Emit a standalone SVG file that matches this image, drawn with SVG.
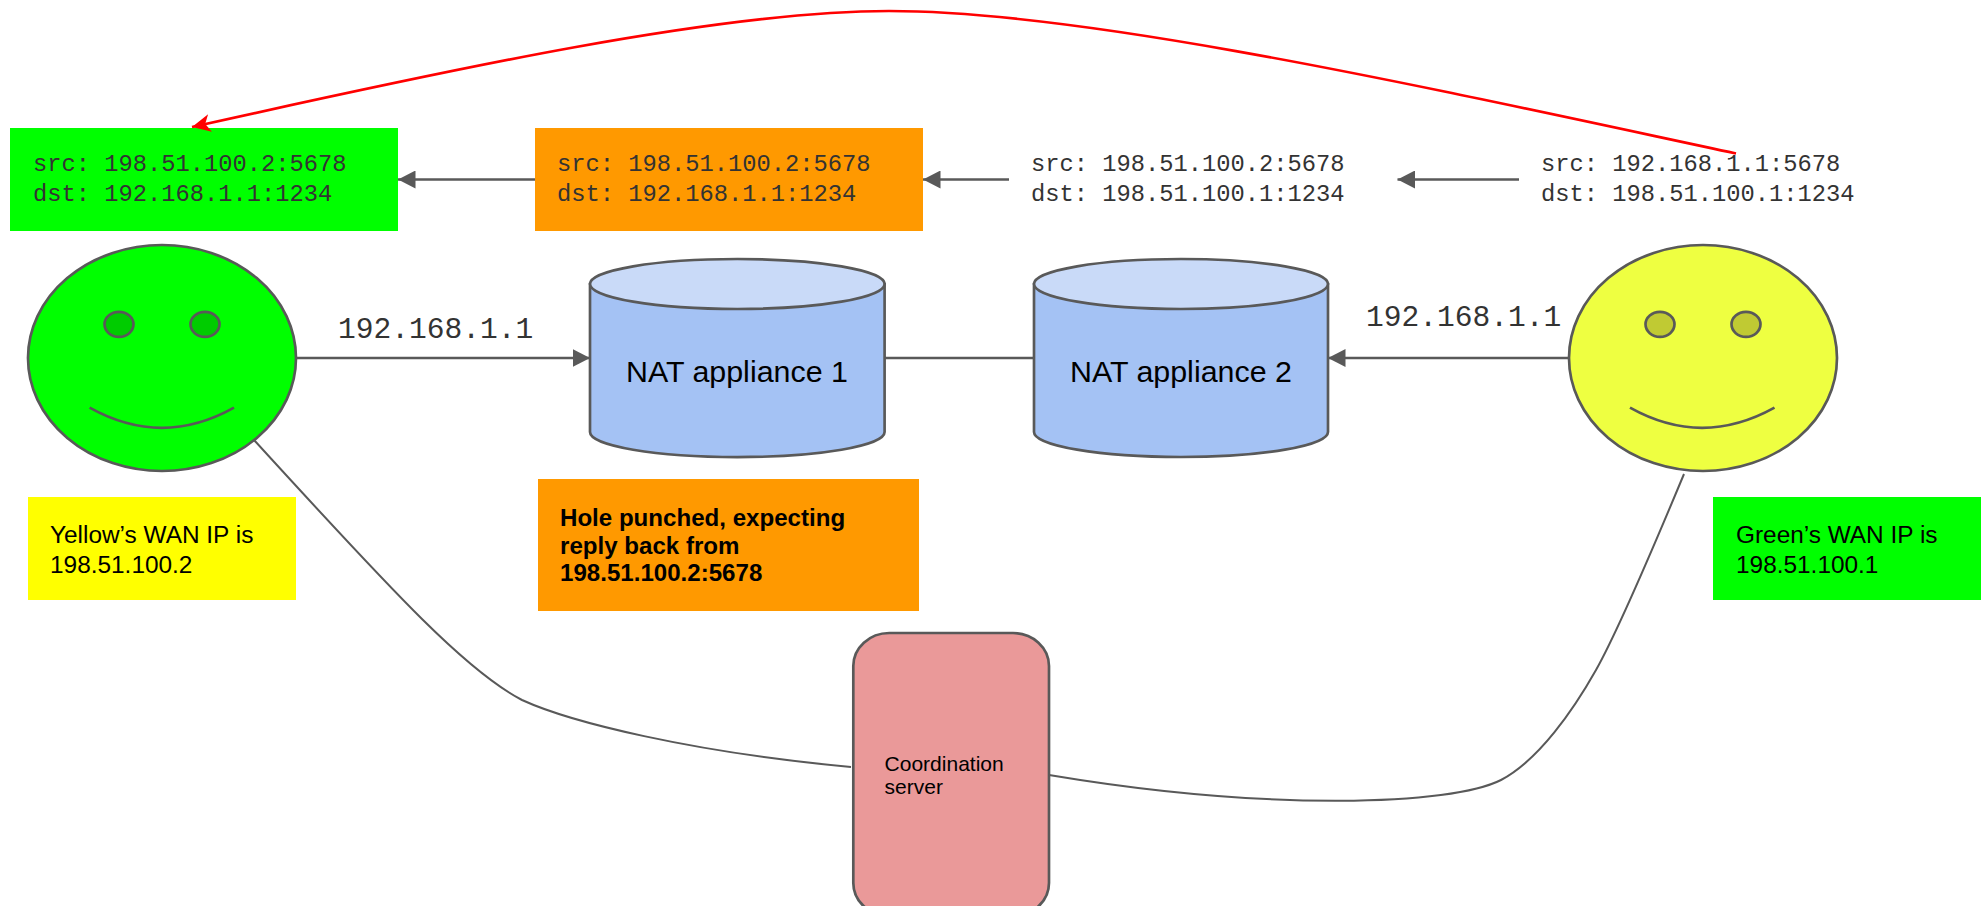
<svg xmlns="http://www.w3.org/2000/svg" width="1984" height="906" viewBox="0 0 1984 906">
<defs>
<style>
.sh{stroke:#595959;stroke-width:2.67}
.mono{font-family:"Liberation Mono",monospace;font-size:23.75px;fill:#333}
.ip{font-family:"Liberation Mono",monospace;font-size:29.6px;fill:#333}
.sans{font-family:"Liberation Sans",Arial,sans-serif;font-size:24.4px;fill:#000}
.big{font-family:"Liberation Sans",Arial,sans-serif;font-size:30.4px;fill:#000}
.bold{font-weight:bold;font-size:24.1px}
.small{font-family:"Liberation Sans",Arial,sans-serif;font-size:21px;fill:#000}
.line{fill:none;stroke:#595959;stroke-width:2.67}
.thin{fill:none;stroke:#595959;stroke-width:2}
</style>
<marker id="arr" markerUnits="userSpaceOnUse" markerWidth="18" markerHeight="18" refX="17.5" refY="9" orient="auto"><path d="M0 0L17.5 9L0 18Z" fill="#595959"/></marker>
<marker id="red" markerUnits="userSpaceOnUse" markerWidth="20" markerHeight="20" refX="18.5" refY="9" orient="auto"><path d="M0 0L18.5 9L0 18L5 9Z" fill="#ff0000"/></marker>
</defs>
<rect width="1984" height="906" fill="#fff"/>
<g id="packet-green"><rect x="10" y="128" width="388" height="103" fill="#00ff00"/><text class="mono" x="33" y="171">src: 198.51.100.2:5678</text><text class="mono" x="33" y="201">dst: 192.168.1.1:1234</text></g>
<g id="packet-orange"><rect x="535" y="128" width="388" height="103" fill="#ff9900"/><text class="mono" x="557" y="171">src: 198.51.100.2:5678</text><text class="mono" x="557" y="201">dst: 192.168.1.1:1234</text></g>
<g id="packet-wan"><text class="mono" x="1031" y="171">src: 198.51.100.2:5678</text><text class="mono" x="1031" y="201">dst: 198.51.100.1:1234</text></g>
<g id="packet-yellow"><text class="mono" x="1541" y="171">src: 192.168.1.1:5678</text><text class="mono" x="1541" y="201">dst: 198.51.100.1:1234</text></g>
<g id="green-face"><ellipse class="sh" cx="162" cy="358" rx="134" ry="113" fill="#00ff00"/><ellipse class="sh" cx="119" cy="324.3" rx="14.5" ry="12.5" fill="#00cc00"/><ellipse class="sh" cx="205" cy="324.3" rx="14.5" ry="12.5" fill="#00cc00"/><path class="line" d="M89.6 407.7Q162 448 234 407.7"/></g>
<g id="yellow-face"><ellipse class="sh" cx="1703" cy="358" rx="134" ry="113" fill="#eeff41"/><ellipse class="sh" cx="1660" cy="324.3" rx="14.5" ry="12.5" fill="#c0ca33"/><ellipse class="sh" cx="1746" cy="324.3" rx="14.5" ry="12.5" fill="#c0ca33"/><path class="line" d="M1630 407.7Q1702 448 1774.5 407.7"/></g>
<g id="nat-1"><path class="sh" d="M590 284V432A147 25 0 0 0 884.6 432V284Z" fill="#a4c2f4"/><ellipse class="sh" cx="737.3" cy="284" rx="147.3" ry="25" fill="#c9daf8"/><text class="big" x="626" y="382">NAT appliance 1</text></g>
<g id="nat-2"><path class="sh" d="M1034 284V432A147 25 0 0 0 1328 432V284Z" fill="#a4c2f4"/><ellipse class="sh" cx="1181" cy="284" rx="147" ry="25" fill="#c9daf8"/><text class="big" x="1070" y="382">NAT appliance 2</text></g>
<g id="note-yellow"><rect x="28" y="497" width="268" height="103" fill="#ffff00"/><text class="sans" x="50" y="542.7">Yellow’s WAN IP is</text><text class="sans" x="50" y="572.7">198.51.100.2</text></g>
<g id="note-hole"><rect x="538" y="479" width="381" height="132" fill="#ff9900"/><text class="sans bold" x="560" y="526">Hole punched, expecting</text><text class="sans bold" x="560" y="554">reply back from</text><text class="sans bold" x="560" y="581">198.51.100.2:5678</text></g>
<g id="note-green"><rect x="1713" y="497" width="268" height="103" fill="#00ff00"/><text class="sans" x="1736" y="542.7">Green’s WAN IP is</text><text class="sans" x="1736" y="572.7">198.51.100.1</text></g>
<g id="server"><rect class="sh" x="853.3" y="633" width="195.7" height="283" rx="36" ry="33" fill="#ea9999"/><text class="small" x="884.6" y="771">Coordination</text><text class="small" x="884.6" y="794">server</text></g>
<g id="connectors">
<path class="line" marker-end="url(#arr)" d="M535 179.5H398"/>
<path class="line" marker-end="url(#arr)" d="M1009 179.5H923"/>
<path class="line" marker-end="url(#arr)" d="M1519 179.5H1397.5"/>
<path class="line" marker-end="url(#arr)" d="M296 358H590"/>
<path class="line" d="M885 358H1034"/>
<path class="line" marker-end="url(#arr)" d="M1569 358H1328"/>
<path class="thin" d="M254 440C400 600 468 672 522 700C570 722 690 752 851 767"/>
<path class="thin" d="M1684 474C1659 534 1618 631 1596 670C1574 709 1539 760 1501 780C1452 805 1270 812 1049 775"/>
<path fill="none" stroke="#ff0000" stroke-width="2.67" marker-end="url(#red)" d="M1736 153.5C1436 89.5 1090 11 889 11C720 11 452 69 192 127"/>
</g>
<g id="labels"><text class="ip" x="338" y="338">192.168.1.1</text><text class="ip" x="1366" y="326">192.168.1.1</text></g>
</svg>
